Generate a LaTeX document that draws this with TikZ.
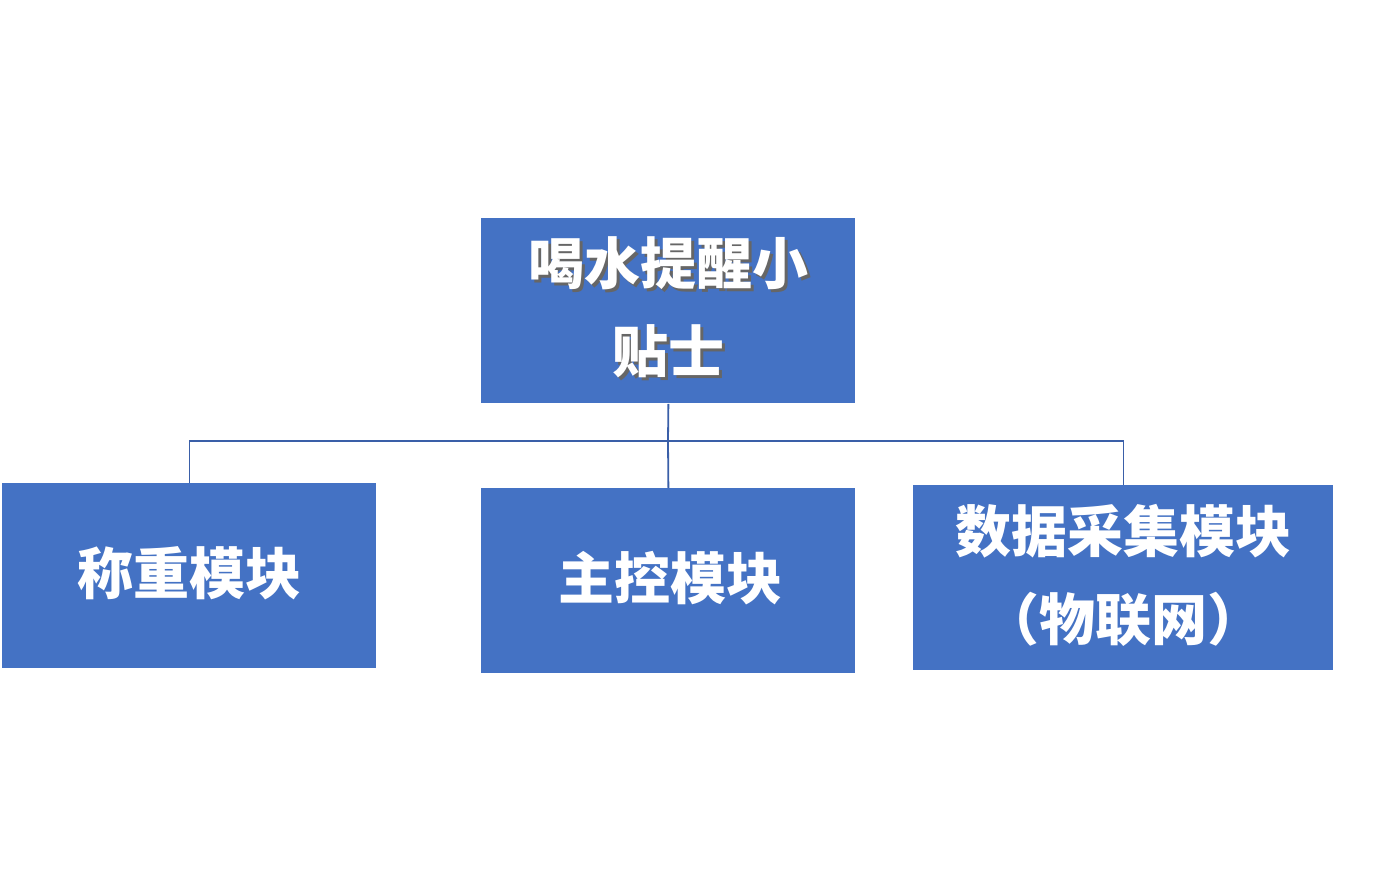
\documentclass[tikz,border=0pt]{standalone}
\usepackage{fontspec}
\newfontfamily\cjk{Noto Sans CJK SC}
\definecolor{boxblue}{HTML}{4472C4}
\definecolor{lineblue}{HTML}{3A5FA8}
\begin{document}
\begin{tikzpicture}[x=0.5pt,y=-0.5pt,
  box/.style={fill=boxblue,draw=none,anchor=north west,inner sep=0pt},
  lbl/.style={text=white,font=\cjk\bfseries\fontsize{28}{44}\selectfont,align=center},
  conn/.style={draw=lineblue,line width=0.9pt}]
\useasboundingbox (0,0) rectangle (1373,889);
\node[box,minimum width=187pt,minimum height=92.5pt] (top) at (481,218) {};
\node[box,minimum width=187pt,minimum height=92.5pt] (left) at (2,483) {};
\node[box,minimum width=187pt,minimum height=92.5pt] (mid) at (481,488) {};
\node[box,minimum width=210pt,minimum height=92.5pt] (right) at (913,485) {};
\node[lbl,text=black!60] at (671,310) {喝水提醒小\\贴士};
\node[lbl] (toptext) at (668,307) {喝水提醒小\\贴士};
\node[lbl] at (189,573) {称重模块};
\node[lbl] at (670,578) {主控模块};
\node[lbl] at (1123,575) {数据采集模块\\（物联网）};
\coordinate (j) at (668,441);
\draw[conn] (top.south) -- (j);
\draw[conn] (j) -| (left.north);
\draw[conn] (j) -- (mid.north);
\draw[conn] (j) -| (right.north);
\end{tikzpicture}
\end{document}
